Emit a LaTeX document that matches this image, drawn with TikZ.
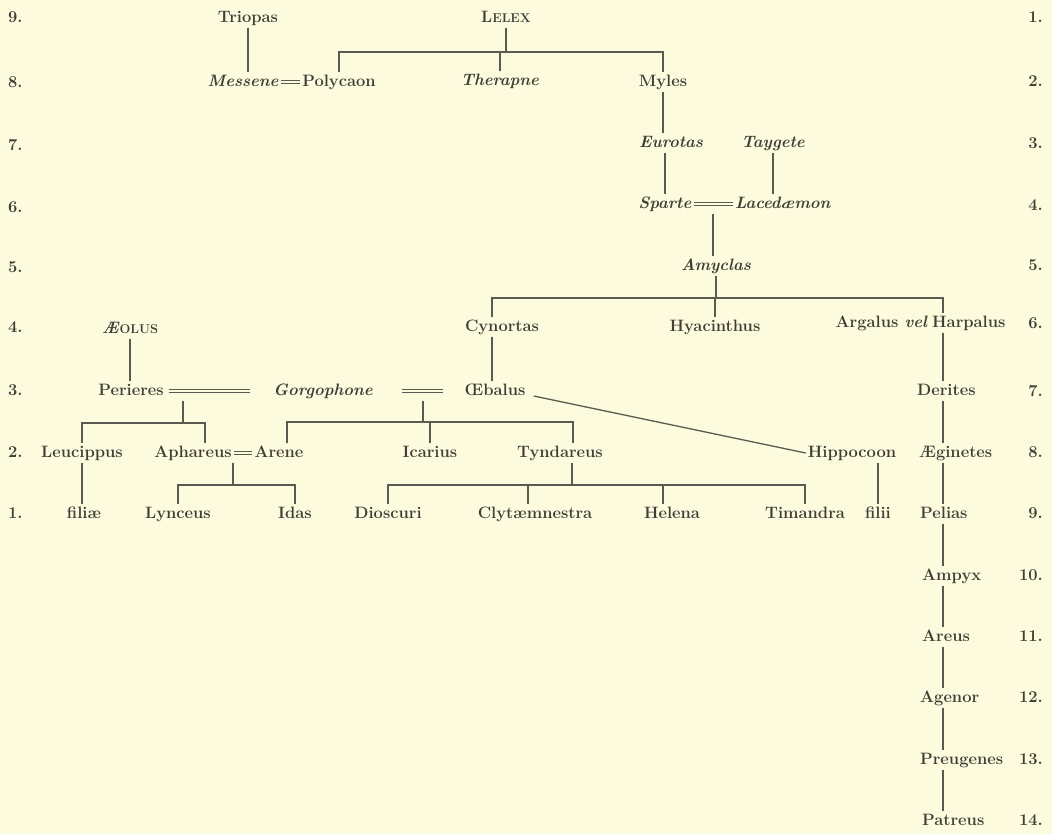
\documentclass[tikz,border=0pt]{standalone}
\usetikzlibrary{calc}
\definecolor{paper}{RGB}{252,251,221}
\definecolor{ink}{RGB}{66,62,55}
\definecolor{rulec}{RGB}{92,89,80}
\newcommand{\mysc}[1]{{\fontsize{12.8}{14}\selectfont #1}}
\begin{document}
\begin{tikzpicture}[x=1pt,y=-1pt,
  nm/.style={inner sep=2pt, text height=12pt, text depth=3pt, text=ink,
    font=\fontsize{16.5}{19}\selectfont\bfseries},
  num/.style={nm},
  ln/.style={draw=rulec, line width=1.7pt},
  mar/.style={draw=rulec, line width=1.2pt, double=paper, double distance=2.2pt}]
\fill[paper] (0,0) rectangle (1052,834);
\useasboundingbox (0,0) rectangle (1052,834);

% generation numbers, left
\foreach \t/\y [count=\i] in {9./18,8./83,7./146,6./208,5./268,4./328,3./391,2./453,1./514}
  \node[num,anchor=west] (L\i) at (6,\y) {\t};
% generation numbers, right
\foreach \t/\y [count=\i] in {1./18,2./82,3./144,4./206,5./266,6./324,7./392,8./453,9./514,10./576,11./637,12./698,13./760,14./821}
  \node[num,anchor=east] (R\i) at (1045,\y) {\t};

% names
\node[nm] (Triopas) at (248,18) {Triopas};
\node[nm] (Lelex) at (506,18) {L\mysc{ELEX}};
\node[nm] (Messene) at (243,82) {\textit{Messene}};
\node[nm] (Polycaon) at (339,82) {Polycaon};
\node[nm] (Therapne) at (500,81) {\textit{Therapne}};
\node[nm] (Myles) at (663,82) {Myles};
\node[nm] (Eurotas) at (671,143) {\textit{Eurotas}};
\node[nm] (Taygete) at (773,143) {\textit{Taygete}};
\node[nm] (Sparte) at (665,204) {\textit{Sparte}};
\node[nm] (Lacedaemon) at (783,204) {\textit{Lacedæmon}};
\node[nm] (Amyclas) at (716,266) {\textit{Amyclas}};
\node[nm] (Aeolus) at (130,329) {\textit{Æ}\mysc{OLUS}};
\node[nm] (Cynortas) at (502,327) {Cynortas};
\node[nm] (Hyacinthus) at (715,327) {Hyacinthus};
\node[nm,anchor=west] (Harpalus) at (930,323) {Harpalus};
\node[nm,anchor=east] (Argalus) at (Harpalus.west) {Argalus \textit{vel}};
\node[nm] (Perieres) at (131,391) {Perieres};
\node[nm] (Gorgophone) at (323,391) {\textit{Gorgophone}};
\node[nm] (Oebalus) at (495,391) {Œbalus};
\node[nm,anchor=west] (Derites) at (915,391) {Derites};
\node[nm] (Leucippus) at (82,453) {Leucippus};
\node[nm] (Aphareus) at (193,453) {Aphareus};
\node[nm] (Arene) at (279,453) {Arene};
\node[nm] (Icarius) at (430,453) {Icarius};
\node[nm] (Tyndareus) at (560,453) {Tyndareus};
\node[nm] (Hippocoon) at (852,453) {Hippocoon};
\node[nm,anchor=west] (Aeginetes) at (917,453) {Æginetes};
\node[nm] (filiae) at (84,514) {filiæ};
\node[nm] (Lynceus) at (178,514) {Lynceus};
\node[nm] (Idas) at (295,514) {Idas};
\node[nm] (Dioscuri) at (388,514) {Dioscuri};
\node[nm] (Clytaemnestra) at (535,514) {Clytæmnestra};
\node[nm] (Helena) at (672,514) {Helena};
\node[nm] (Timandra) at (805,514) {Timandra};
\node[nm] (filii) at (878,514) {filii};
\node[nm,anchor=west] (Pelias) at (918,514) {Pelias};
\node[nm,anchor=west] (Ampyx) at (920,576) {Ampyx};
\node[nm,anchor=west] (Areus) at (920,637) {Areus};
\node[nm,anchor=west] (Agenor) at (918,698) {Agenor};
\node[nm,anchor=west] (Preugenes) at (918,760) {Preugenes};
\node[nm,anchor=west] (Patreus) at (920,821) {Patreus};

% helper coordinates
\coordinate (barLelex) at (506,52);
\coordinate (barAm) at (716,298);
\coordinate (cynx) at (492,0);
\coordinate (chainx) at (943,0);
\coordinate (barPG) at (183,423);
\coordinate (barGO) at (423,422);
\coordinate (barAA) at (233,485);
\coordinate (barTy) at (572,485);
\path (Aphareus.north) ++(12,0) coordinate (aphx);
\path (Arene.north) ++(8,0) coordinate (arex);
\path (Tyndareus.north) ++(13,0) coordinate (tynx);
\path (Clytaemnestra.north) ++(-7,0) coordinate (clyx);
\path (Helena.north) ++(-9,0) coordinate (helx);
\path (Oebalus.east) ++(6,5) coordinate (oebx);

% Triopas and Lelex
\draw[ln] (Triopas.south) -- (Triopas.south |- Messene.north);
\draw[mar] (Messene.east) -- (Polycaon.west);
\draw[ln] (Lelex.south) -- (barLelex);
\draw[ln] (Polycaon.north) |- (barLelex) -| (Myles.north);
\draw[ln] (Therapne.north) -- (Therapne.north |- barLelex);
\draw[ln] (Myles.south) -- (Myles.south |- Eurotas.north);
\draw[ln] (Sparte.north) -- (Sparte.north |- Eurotas.south);
\draw[ln] (Taygete.south) -- (Taygete.south |- Lacedaemon.north);
\draw[mar] (Sparte.east) -- (Lacedaemon.west);
\coordinate (mSL) at ($(Sparte.east)!0.5!(Lacedaemon.west)$);
\draw[ln] (mSL |- Sparte.south) -- (mSL |- Amyclas.north);

% Amyclas' children
\draw[ln] (Amyclas.south) -- (Amyclas.south |- barAm);
\draw[ln] (cynx |- Cynortas.north) |- (barAm) -| (chainx |- Harpalus.north);
\draw[ln] (Hyacinthus.north) -- (Hyacinthus.north |- barAm);
\draw[ln] (cynx |- Cynortas.south) -- (cynx |- Oebalus.north);

% Aeolus, Perieres = Gorgophone = Oebalus
\draw[ln] (Aeolus.south) -- (Aeolus.south |- Perieres.north);
\draw[mar, shorten <=3pt, shorten >=21pt] (Perieres.east) -- (Gorgophone.west);
\draw[mar, shorten <=27pt, shorten >=19pt] (Gorgophone.east) -- (Oebalus.west);
\draw[ln] (barPG |- Perieres.south) -- (barPG);
\draw[ln] (Leucippus.north) |- (barPG) -| (aphx);
\draw[ln] (barGO |- Oebalus.south) -- (barGO);
\draw[ln] (arex) |- (barGO) -| (tynx);
\draw[ln] (Icarius.north) -- (Icarius.north |- barGO);
\draw[ln, line width=1.3pt] (oebx) -- (Hippocoon.west);

% next generation
\draw[ln] (Leucippus.south) -- (Leucippus.south |- filiae.north);
\draw[mar] (Aphareus.east) -- (Arene.west);
\draw[ln] (barAA |- Aphareus.south) -- (barAA);
\draw[ln] (Lynceus.north) |- (barAA) -| (Idas.north);
\draw[ln] (barTy |- Tyndareus.south) -- (barTy);
\draw[ln] (Dioscuri.north) |- (barTy) -| (Timandra.north);
\draw[ln] (clyx) -- (clyx |- barTy);
\draw[ln] (helx) -- (helx |- barTy);
\draw[ln] (filii.north) -- (filii.north |- Hippocoon.south);

% line of Harpalus
\foreach \a/\b in {Harpalus/Derites, Derites/Aeginetes, Aeginetes/Pelias, Pelias/Ampyx,
  Ampyx/Areus, Areus/Agenor, Agenor/Preugenes, Preugenes/Patreus}
  \draw[ln] (chainx |- \a.south) -- (chainx |- \b.north);
\end{tikzpicture}
\end{document}
